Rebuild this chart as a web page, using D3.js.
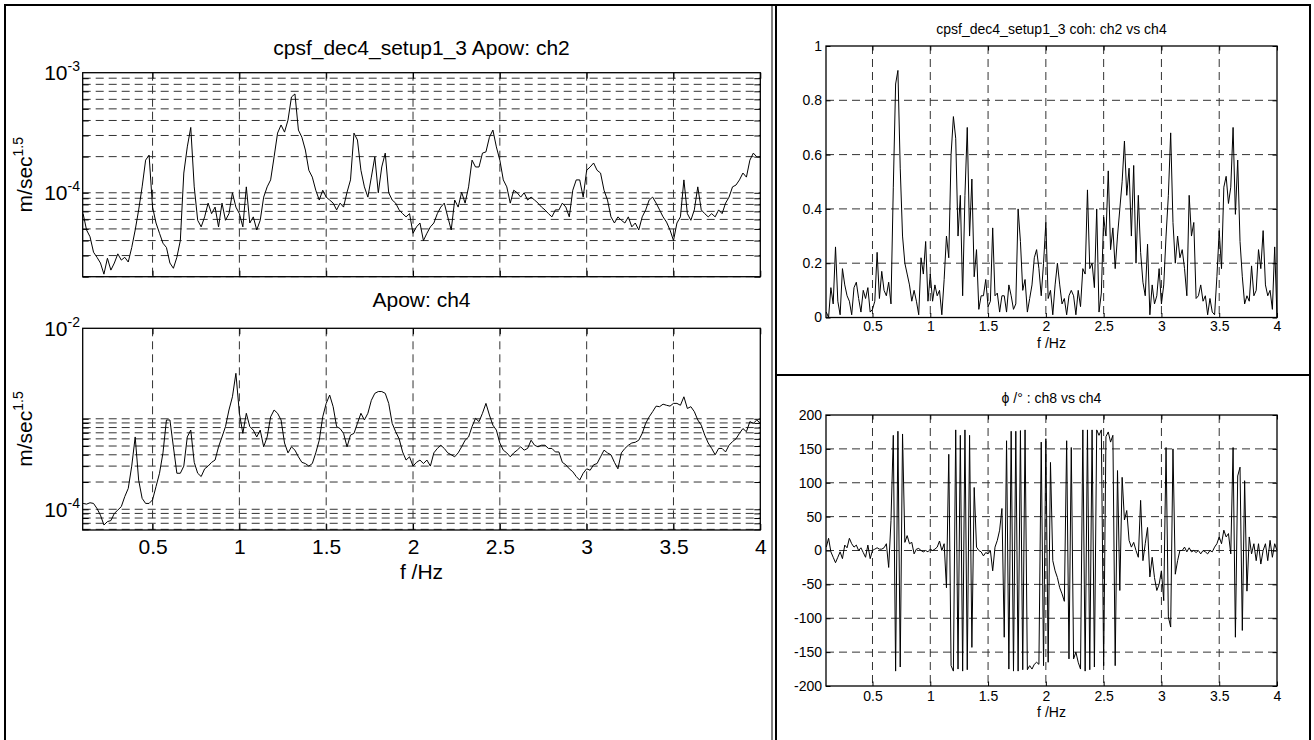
<!DOCTYPE html>
<html>
<head>
<meta charset="utf-8">
<script src="https://cdn.jsdelivr.net/npm/d3@7"></script>
<style>
body{margin:0;background:#fff;}
text{font-family:"Liberation Sans",Arial,Helvetica,sans-serif;fill:#000;}
</style>
</head>
<body>
<div id="chart"></div>
<script>
// frequency bins (Hz)
var freq = [
0.10,0.12,0.14,0.16,0.18,0.20,0.22,0.24,0.26,0.28,
0.30,0.32,0.34,0.36,0.38,0.40,0.42,0.44,0.46,0.48,
0.50,0.52,0.54,0.56,0.58,0.60,0.62,0.64,0.66,0.68,
0.70,0.72,0.74,0.76,0.78,0.80,0.82,0.84,0.86,0.88,
0.90,0.92,0.94,0.96,0.98,1.00,1.02,1.04,1.06,1.08,
1.10,1.12,1.14,1.16,1.18,1.20,1.22,1.24,1.26,1.28,
1.30,1.32,1.34,1.36,1.38,1.40,1.42,1.44,1.46,1.48,
1.50,1.52,1.54,1.56,1.58,1.60,1.62,1.64,1.66,1.68,
1.70,1.72,1.74,1.76,1.78,1.80,1.82,1.84,1.86,1.88,
1.90,1.92,1.94,1.96,1.98,2.00,2.02,2.04,2.06,2.08,
2.10,2.12,2.14,2.16,2.18,2.20,2.22,2.24,2.26,2.28,
2.30,2.32,2.34,2.36,2.38,2.40,2.42,2.44,2.46,2.48,
2.50,2.52,2.54,2.56,2.58,2.60,2.62,2.64,2.66,2.68,
2.70,2.72,2.74,2.76,2.78,2.80,2.82,2.84,2.86,2.88,
2.90,2.92,2.94,2.96,2.98,3.00,3.02,3.04,3.06,3.08,
3.10,3.12,3.14,3.16,3.18,3.20,3.22,3.24,3.26,3.28,
3.30,3.32,3.34,3.36,3.38,3.40,3.42,3.44,3.46,3.48,
3.50,3.52,3.54,3.56,3.58,3.60,3.62,3.64,3.66,3.68,
3.70,3.72,3.74,3.76,3.78,3.80,3.82,3.84,3.86,3.88,
3.90,3.92,3.94,3.96,3.98,4.00];

// Apow ch2, in units of 1e-5 m/sec^1.5
var apowCh2 = [
6.7,4.9,4.3,3.2,2.9,2.6,2.1,2.85,2.27,2.6,
3.1,2.75,2.9,2.65,3.5,4.9,7.2,11.2,18.7,20.6,
7.6,5.6,4.6,3.8,3.5,2.6,2.35,2.9,4.0,14.6,
24.1,35,11.2,5.9,5.2,6.3,8.2,6.7,7.6,5.2,
8.2,5.9,6.7,10,7.6,6.7,5.2,11.2,5.6,6.3,
4.9,5.9,9.2,11.2,12.8,19.9,31.4,36.7,32,40.3,
62.8,66.5,33.3,29,22.7,15.4,13.5,10.5,8.7,10.5,
9.2,8.7,8.2,7.2,8.2,7.6,10.1,12.8,31.4,27.5,
15.4,11.2,9.2,13.5,19.9,10,16.4,21.4,10,8.7,
8.2,7.2,6.7,6.3,6.7,4.6,5.2,5.6,4.0,4.6,
5.2,5.6,6.7,7.6,8.2,6.3,4.9,8.7,7.6,10.1,
8.2,11.2,18.7,16.4,16.4,21.4,21.9,29,33.3,24.1,
18.7,12.8,11.2,8.2,10.5,10,9.2,10,8.7,9.2,
8.7,8.2,7.6,7.2,6.7,6.3,7.2,7.2,8.2,7.6,
6.3,10.5,12.8,12.8,9.2,15.4,16.4,17.7,15.4,14.6,
10.5,8.7,6.3,5.6,6.3,5.9,5.6,6.3,5.2,5.6,
4.9,6.3,7.2,8.7,9.2,8.2,7.2,6.3,5.7,4.9,
4.0,5.6,6.3,12.8,6.7,5.9,7.2,11.2,7.2,6.7,
6.3,6.7,6.3,7.2,6.7,8.2,9.2,11.2,11.6,12.8,
14.6,13.5,18.7,21.4,19.9,19.9];

// Apow ch4, in units of 1e-5 m/sec^1.5
var apowCh4 = [
11.6,11.4,11.8,11.6,10.2,8.6,6.7,7.3,7.5,9.0,
9.8,10.7,13.8,17,30,63,21,13.2,11.6,11.6,
12.7,17.8,25,42,97,97,49,25,25,30,
63,75,33,25,23,28,30,33,35,49,
63,82,125,175,318,115,69,115,82,75,
63,75,49,63,105,125,115,97,54,42,
49,45,38,33,32,30,32,42,58,105,
148,183,136,82,78,69,49,66,69,89,
115,97,115,160,191,200,200,191,148,89,
72,60,43,35,38,30,33,35,32,35,
30,42,47,51,47,42,40,38,42,49,
58,63,82,101,93,115,148,110,85,75,
54,45,42,38,42,45,49,45,47,58,
51,49,51,51,47,47,43,43,33,31,
28,26,23,21,25,28,27,31,32,38,
45,42,40,33,28,42,47,51,54,55,
58,69,89,105,120,138,136,145,141,138,
148,148,141,175,130,136,120,97,85,66,
54,47,40,47,47,43,51,56,60,69,
78,72,93,89,97,89];

// coherence ch2 vs ch4
var cohCh2Ch4 = [
0.02,0,0.11,0.05,0.26,0.06,0.01,0.18,0.12,0.08,
0.06,0.01,0.11,0.13,0.07,0.02,0.1,0.07,0.11,0.02,
0.03,0.06,0.24,0.07,0.17,0.1,0.08,0.13,0.05,0.48,
0.86,0.91,0.55,0.3,0.2,0.16,0.12,0.06,0.1,0.06,
0.01,0.22,0.16,0.28,0.06,0.16,0.06,0.12,0.08,0.1,
0.01,0.14,0.3,0.22,0.6,0.74,0.66,0.3,0.45,0.08,
0.45,0.7,0.3,0.51,0.15,0.25,0.03,0.08,0.08,0.14,
0.04,0.06,0.33,0.08,0.09,0.02,0.08,0.08,0.02,0.12,
0.08,0.03,0.05,0.4,0.28,0.1,0.14,0.02,0.07,0.12,
0.22,0.25,0.18,0.08,0.2,0.35,0.07,0.1,0.01,0.12,
0.2,0.12,0.05,0.07,0.01,0.08,0.1,0.08,0.01,0.1,
0.04,0.18,0.16,0.47,0.18,0.2,0.11,0.4,0.02,0.09,
0.37,0.3,0.54,0.25,0.33,0.18,0.3,0.4,0.5,0.65,
0.45,0.55,0.3,0.56,0.2,0.45,0.24,0.13,0.08,0.27,
0.01,0.12,0.05,0.08,0.18,0.05,0.12,0.3,0.45,0.68,
0.35,0.2,0.3,0.22,0.25,0.18,0.08,0.45,0.3,0.35,
0.07,0.08,0.12,0.06,0.08,0.01,0.07,0.02,0.01,0.15,
0.32,0.18,0.48,0.52,0.42,0.48,0.7,0.38,0.58,0.28,
0.15,0.05,0.08,0.06,0.19,0.08,0.1,0.25,0.18,0.32,
0.12,0.08,0.1,0.03,0.26,0];

// phase ch8 vs ch4, degrees
var phaseCh8Ch4 = [
5,18,-2,-10,-18,-10,-2,-12,8,4,
18,10,5,8,0,4,-3,-10,8,-12,
0,2,4,2,2,4,10,-25,44,170,
-178,176,-172,172,12,22,10,12,-5,2,
3,0,-2,0,-2,2,0,2,5,14,
0,10,-55,142,-170,-178,178,-175,170,-178,
178,-176,170,-143,93,5,0,-2,-8,-3,
-5,0,-30,5,15,30,62,-128,162,-175,
176,-178,176,-178,177,-176,178,-176,-170,-175,
-168,-165,-168,160,-170,165,-165,130,-15,-30,
-40,-55,-64,-75,162,-160,152,-160,-150,-165,
-175,178,-178,178,-176,178,-172,178,170,178,
-170,168,175,160,170,-170,118,-59,108,45,
59,15,5,12,0,-10,74,-15,10,34,
-39,-10,-40,-59,-50,-30,-74,152,-98,-113,
150,-35,-15,0,0,5,-2,4,-2,0,
-3,0,-5,0,-2,-5,0,-2,5,10,
20,10,30,20,25,-5,152,-128,110,123,
-118,103,-60,20,-5,10,-15,10,-20,0,
10,-15,15,-10,10,0];

var xTicks = [0.5,1,1.5,2,2.5,3,3.5,4];
var ch2GridY = [2e-5,3e-5,4e-5,5e-5,6e-5,7e-5,8e-5,9e-5,1e-4,2e-4,3e-4,4e-4,5e-4,6e-4,7e-4,8e-4,9e-4];
var ch4GridY = [6e-5,7e-5,8e-5,9e-5,1e-4,2e-4,3e-4,4e-4,5e-4,6e-4,7e-4,8e-4,9e-4,1e-3];
var ch2LabelExp = [-3,-4];
var ch4LabelExp = [-2,-4];
var cohTicks = [0,0.2,0.4,0.6,0.8,1];
var phaseTicks = [-200,-150,-100,-50,0,50,100,150,200];

var unitE5 = 1e-5;
var fMin = 0.0977, fMax = 4;

var svg = d3.select("#chart").append("svg")
.attr("width",1314)
.attr("height",740);

// cell frames
var frame = svg.append("g").attr("stroke","#000").attr("fill","none");
frame.append("line").attr("x1",4).attr("y1",5).attr("x2",1311).attr("y2",5).attr("stroke-width",2);
frame.append("line").attr("x1",5).attr("y1",5).attr("x2",5).attr("y2",740).attr("stroke-width",2);
frame.append("line").attr("x1",772).attr("y1",5).attr("x2",772).attr("y2",740).attr("stroke-width",1);
frame.append("line").attr("x1",776).attr("y1",5).attr("x2",776).attr("y2",740).attr("stroke-width",2);
frame.append("line").attr("x1",776).attr("y1",375).attr("x2",1311).attr("y2",375).attr("stroke-width",2);
frame.append("line").attr("x1",1310).attr("y1",5).attr("x2",1310).attr("y2",740).attr("stroke-width",2);

function panel(cfg){
  var g = svg.append("g");
  var x = cfg.x, y = cfg.y;
  var xa = x.range()[0], xb = x.range()[1];
  var yb = y.range()[0], ya = y.range()[1];

  // dashed grid
  g.selectAll("line.gx").data(cfg.xGrid).enter().append("line")
  .attr("class","gx")
  .attr("x1",d => x(d)).attr("x2",d => x(d))
  .attr("y1",ya).attr("y2",yb)
  .attr("stroke","#333").attr("stroke-width",1)
  .attr("stroke-dasharray","8,5");
  g.selectAll("line.gy").data(cfg.yGrid).enter().append("line")
  .attr("class","gy")
  .attr("x1",xa).attr("x2",xb)
  .attr("y1",d => y(d)).attr("y2",d => y(d))
  .attr("stroke","#333").attr("stroke-width",1)
  .attr("stroke-dasharray","8,5");

  // data line
  var line = d3.line()
  .x(d => x(d[0]))
  .y(d => y(d[1]*cfg.unit));
  g.append("path")
  .datum(d3.zip(freq,cfg.values))
  .attr("d",line)
  .attr("fill","none")
  .attr("stroke","#000")
  .attr("stroke-width",1)
  .attr("stroke-linejoin","round");

  // ticks, pointing inside
  var tl = cfg.tickLen;
  g.append("g").attr("transform","translate(0,"+yb+")")
  .call(d3.axisBottom(x).tickValues(xTicks).tickSize(-tl).tickPadding(cfg.xPad)
    .tickFormat(cfg.xLabels ? (d => String(d)) : ""));
  g.append("g").attr("transform","translate(0,"+ya+")")
  .call(d3.axisTop(x).tickValues(xTicks).tickSize(-tl).tickFormat(""));
  g.append("g").attr("transform","translate("+xa+",0)")
  .call(d3.axisLeft(y).tickValues(cfg.yTicks).tickSize(-tl).tickPadding(cfg.yPad)
    .tickFormat(cfg.yLabels ? (d => String(d)) : ""));
  g.append("g").attr("transform","translate("+xb+",0)")
  .call(d3.axisRight(y).tickValues(cfg.yTicks).tickSize(-tl).tickFormat(""));
  g.selectAll(".domain").remove();
  g.selectAll(".tick line").attr("stroke","#000");
  g.selectAll(".tick text")
  .attr("font-family","'Liberation Sans',Arial,Helvetica,sans-serif")
  .attr("font-size",cfg.fontSize)
  .attr("fill","#000");

  // box
  g.append("rect")
  .attr("x",xa).attr("y",ya)
  .attr("width",xb-xa).attr("height",yb-ya)
  .attr("fill","none").attr("stroke","#000").attr("stroke-width",1.3);
  return g;
}

// ---- left column: amplitude spectra (log) ----
var xLeft = d3.scaleLinear().domain([fMin,fMax]).range([82.7,760.3]);
var yCh2 = d3.scaleLog().domain([2e-5,1e-3]).range([276.7,72.7]);
var yCh4 = d3.scaleLog().domain([5.9e-5,1e-2]).range([530,328.3]);

var p1 = panel({x:xLeft,y:yCh2,values:apowCh2,unit:unitE5,xGrid:xTicks.slice(0,-1),
  yGrid:ch2GridY,yTicks:ch2GridY,tickLen:6,xPad:9,yPad:6,xLabels:false,yLabels:false,fontSize:21});
var p2 = panel({x:xLeft,y:yCh4,values:apowCh4,unit:unitE5,xGrid:xTicks.slice(0,-1),
  yGrid:ch4GridY,yTicks:ch4GridY,tickLen:6,xPad:9,yPad:6,xLabels:true,yLabels:false,fontSize:21});

function powLabels(g,y,exps){
  var t = g.selectAll("text.pw").data(exps).enter().append("text")
  .attr("class","pw")
  .attr("x",80)
  .attr("y",d => y(Math.pow(10,d))+7.3)
  .attr("text-anchor","end")
  .attr("font-size",21);
  t.append("tspan").text("10");
  t.append("tspan").attr("dy",-9).attr("font-size",14).text(d => String(d));
}
powLabels(p1,yCh2,ch2LabelExp);
powLabels(p2,yCh4,ch4LabelExp);

function yUnit(g,cy){
  var t = g.append("text")
  .attr("transform","translate(32,"+cy+")rotate(-90)")
  .attr("text-anchor","middle")
  .attr("font-size",21);
  t.append("tspan").text("m/sec");
  t.append("tspan").attr("dy",-9).attr("font-size",14).text("1.5");
}
yUnit(p1,174.7);
yUnit(p2,429);

p1.append("text").attr("x",421.5).attr("y",55).attr("text-anchor","middle")
.attr("font-size",21).text("cpsf_dec4_setup1_3 Apow: ch2");
p2.append("text").attr("x",421.5).attr("y",307).attr("text-anchor","middle")
.attr("font-size",21).text("Apow: ch4");
p2.append("text").attr("x",421.5).attr("y",579).attr("text-anchor","middle")
.attr("font-size",21).text("f /Hz");

// ---- right column: coherence and phase ----
var xRight = d3.scaleLinear().domain([fMin,fMax]).range([826,1277]);
var yCoh = d3.scaleLinear().domain([0,1]).range([317.5,46]);
var yPhase = d3.scaleLinear().domain([-200,200]).range([686,415]);

var p3 = panel({x:xRight,y:yCoh,values:cohCh2Ch4,unit:1,xGrid:xTicks.slice(0,-1),
  yGrid:cohTicks.slice(1,-1),yTicks:cohTicks,tickLen:4.5,xPad:4,yPad:4,xLabels:true,yLabels:true,fontSize:14});
var p4 = panel({x:xRight,y:yPhase,values:phaseCh8Ch4,unit:1,xGrid:xTicks.slice(0,-1),
  yGrid:phaseTicks.slice(1,-1),yTicks:phaseTicks,tickLen:4.5,xPad:5,yPad:4,xLabels:true,yLabels:true,fontSize:14});

p3.append("text").attr("x",1051.5).attr("y",34).attr("text-anchor","middle")
.attr("font-size",14).text("cpsf_dec4_setup1_3 coh: ch2 vs ch4");
p3.append("text").attr("x",1051.5).attr("y",348).attr("text-anchor","middle")
.attr("font-size",14).text("f /Hz");
p4.append("text").attr("x",1051.5).attr("y",403).attr("text-anchor","middle")
.attr("font-size",14).text("\u03D5 /\u00B0 : ch8 vs ch4");
p4.append("text").attr("x",1051.5).attr("y",717).attr("text-anchor","middle")
.attr("font-size",14).text("f /Hz");
</script>
</body>
</html>
